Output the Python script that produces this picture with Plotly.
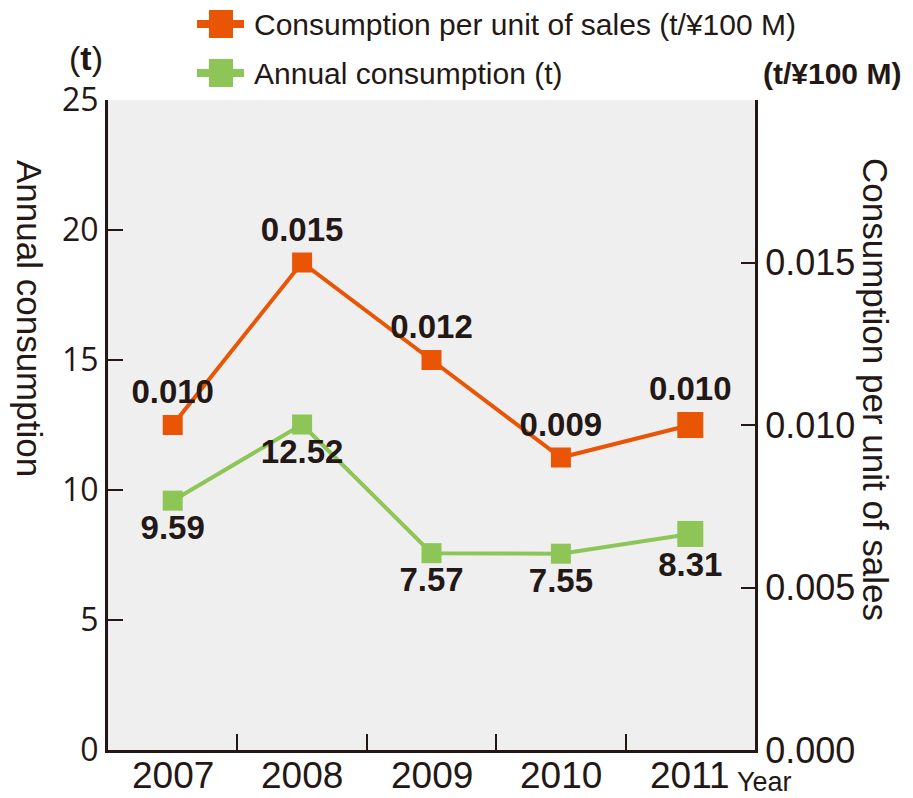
import plotly.graph_objects as go

years = ["2007", "2008", "2009", "2010", "2011"]
per_sales = [0.010, 0.015, 0.012, 0.009, 0.010]   # t/¥100 M
annual = [9.59, 12.52, 7.57, 7.55, 8.31]           # t

left_ticks = [0, 5, 10, 15, 20, 25]
right_ticks = [0.000, 0.005, 0.010, 0.015]

ORANGE = "#e95504"
GREEN = "#8dc556"
INK = "#231815"
NARROW = "Liberation Sans Narrow, Arial Narrow, sans-serif"
REG = "Liberation Sans, Arial, sans-serif"

OFF = 8  # page body margin
W, H = 905, 790
ML, MR, MT, MB = 100, 158, 92, 48
PW, PH = W - ML - MR, H - MT - MB

def px(x):  # page pixel -> paper
    return (x - OFF - ML) / PW

def py(y):
    return (H - MB - (y - OFF)) / PH

msize = [20, 20, 20, 20, 26]

fig = go.Figure()
fig.add_trace(go.Scatter(
    x=years, y=annual, mode="lines+markers+text", name="Annual consumption (t)",
    line=dict(color=GREEN, width=4),
    marker=dict(symbol="square", size=msize, color=GREEN, opacity=1, line=dict(width=0)),
    text=[f"{v:.2f}" for v in annual], textposition="bottom center",
    textfont=dict(family=NARROW, size=33, color=INK, weight="bold"),
    yaxis="y", cliponaxis=False, showlegend=False,
))
fig.add_trace(go.Scatter(
    x=years, y=per_sales, mode="lines+markers+text", name="Consumption per unit of sales (t/¥100 M)",
    line=dict(color=ORANGE, width=4),
    marker=dict(symbol="square", size=msize, color=ORANGE, opacity=1, line=dict(width=0)),
    text=[f"{v:.3f}" for v in per_sales], textposition="top center",
    textfont=dict(family=NARROW, size=33, color=INK, weight="bold"),
    yaxis="y2", cliponaxis=False, showlegend=False,
))

shapes = []
annotations = []
# custom legend
for i, (col, label) in enumerate([(ORANGE, "Consumption per unit of sales (t/¥100 M)"),
                                  (GREEN, "Annual consumption (t)")]):
    cy = 24 + i * 49
    shapes.append(dict(type="rect", xref="paper", yref="paper",
                       x0=px(197), x1=px(244), y0=py(cy + 4), y1=py(cy - 4),
                       fillcolor=col, line=dict(width=0), layer="above"))
    shapes.append(dict(type="rect", xref="paper", yref="paper",
                       x0=px(209), x1=px(233), y0=py(cy + 14), y1=py(cy - 14),
                       fillcolor=col, line=dict(width=0), layer="above"))
    annotations.append(dict(xref="paper", yref="paper", x=px(252), y=py(cy),
                            xanchor="left", yanchor="middle", showarrow=False,
                            text=label, font=dict(family=NARROW, size=30, color=INK)))

# category labels under the x axis (category axis: annotation x is the category index)
for idx, yr in enumerate(years):
    annotations.append(dict(xref="x", yref="paper", x=idx, y=py(775),
                            xanchor="center", yanchor="middle", showarrow=False,
                            text=yr, font=dict(family=NARROW, size=37, color=INK)))

annotations += [
    dict(xref="paper", yref="paper", x=px(86), y=py(58), xanchor="center", yanchor="middle",
         showarrow=False, text="(<b>t</b>)", font=dict(family=NARROW, size=34, color=INK)),
    dict(xref="paper", yref="paper", x=px(832), y=py(73), xanchor="center", yanchor="middle",
         showarrow=False, text="<b>(t/¥100 M)</b>", font=dict(family=NARROW, size=30, color=INK)),
    dict(xref="paper", yref="paper", x=px(30), y=py(318), xanchor="center", yanchor="middle",
         showarrow=False, text="Annual consumption", textangle=90,
         font=dict(family=REG, size=35, color=INK)),
    dict(xref="paper", yref="paper", x=px(876), y=py(389), xanchor="center", yanchor="middle",
         showarrow=False, text="Consumption per unit of sales", textangle=90,
         font=dict(family=REG, size=35, color=INK)),
    dict(xref="paper", yref="paper", x=px(735), y=py(782), xanchor="left", yanchor="middle",
         showarrow=False, text="Year", font=dict(family=NARROW, size=27, color=INK)),
]

fig.update_layout(
    width=W, height=H, autosize=False,
    margin=dict(l=ML, r=MR, t=MT, b=MB),
    paper_bgcolor="white", plot_bgcolor="#efefef",
    showlegend=False,
    xaxis=dict(type="category", categoryorder="array", categoryarray=years,
               range=[-0.5, 4.5], tickson="boundaries", ticks="inside", ticklen=16,
               tickwidth=2, tickcolor=INK, showline=True, linecolor=INK, linewidth=3,
               showgrid=False, zeroline=False, automargin=False, showticklabels=False),
    yaxis=dict(range=[0, 25], tickvals=left_ticks, ticks="inside", ticklen=15,
               tickwidth=2, tickcolor=INK, showline=True, linecolor=INK, linewidth=3,
               showgrid=False, zeroline=False, automargin=False,
               tickfont=dict(family="Open Sans, sans-serif", size=32, color=INK)),
    yaxis2=dict(range=[0, 0.02], tickvals=right_ticks, tickformat=".3f", overlaying="y",
                side="right", ticks="inside", ticklen=14, tickwidth=2, tickcolor=INK,
                showline=True, linecolor=INK, linewidth=3, showgrid=False, zeroline=False,
                automargin=False,
                tickfont=dict(family=NARROW, size=36, color=INK)),
    shapes=shapes, annotations=annotations,
)

fig.write_html("out.html")
